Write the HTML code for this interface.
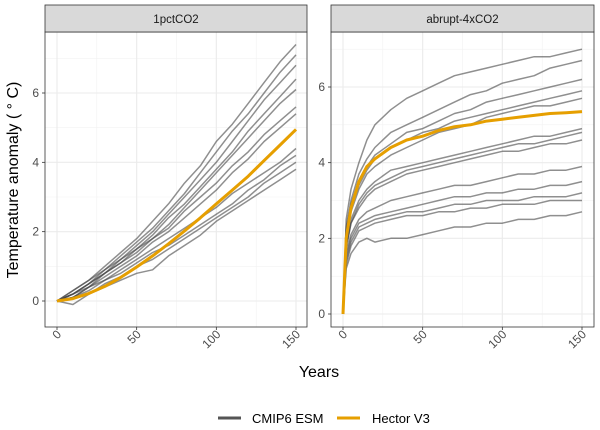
<!DOCTYPE html>
<html><head><meta charset="utf-8"><style>
body{margin:0;background:#fff;}
svg{font-family:"Liberation Sans",sans-serif;display:block}
</style></head><body>
<svg id="chart" width="600" height="430" viewBox="0 0 600 430">
<rect width="600" height="430" fill="#fff"/>
<g id="layer"></g>
<text x="319" y="377" font-size="16" text-anchor="middle" fill="#000">Years</text>
<text transform="translate(18,180) rotate(-90)" font-size="16" text-anchor="middle" fill="#000">Temperature anomaly ( ° C)</text>
<g>
<line x1="218" y1="418" x2="241" y2="418" stroke="#555" stroke-width="3"/>
<text x="252" y="423" font-size="13" fill="#000">CMIP6 ESM</text>
<line x1="337" y1="418" x2="360" y2="418" stroke="#E69F00" stroke-width="3"/>
<text x="372" y="423" font-size="13" fill="#000">Hector V3</text>
</g>
</svg>
<script>
const yearsA=[0,10,20,30,40,50,60,70,80,90,100,110,120,130,140,150];
const esmA=[
[0,0.3,0.6,1.0,1.4,1.8,2.3,2.8,3.4,3.9,4.6,5.1,5.7,6.3,6.9,7.4],
[0,0.2,0.5,0.9,1.3,1.7,2.1,2.6,3.1,3.7,4.3,4.9,5.4,6.0,6.6,7.1],
[0,0.3,0.6,0.9,1.2,1.6,2.0,2.5,3.0,3.5,4.0,4.6,5.2,5.8,6.3,6.8],
[0,0.2,0.5,0.8,1.2,1.5,1.9,2.4,2.8,3.3,3.8,4.3,4.9,5.4,5.9,6.4],
[0,0.1,0.4,0.8,1.1,1.5,1.8,2.2,2.7,3.2,3.7,4.2,4.7,5.2,5.7,6.1],
[0,0.2,0.5,0.8,1.1,1.4,1.8,2.1,2.6,3.0,3.4,3.9,4.3,4.8,5.2,5.6],
[0,0.1,0.4,0.7,1.0,1.3,1.7,2.0,2.4,2.8,3.2,3.7,4.1,4.6,5.0,5.4],
[0,0.2,0.4,0.6,0.9,1.2,1.5,1.8,2.1,2.4,2.7,3.1,3.4,3.7,4.0,4.4],
[0,0.1,0.3,0.6,0.8,1.1,1.4,1.6,1.9,2.2,2.5,2.8,3.2,3.5,3.9,4.2],
[0,0.1,0.2,0.5,0.7,1.0,1.2,1.5,1.8,2.1,2.4,2.7,3.0,3.4,3.7,4.0],
[0,-0.1,0.2,0.4,0.6,0.8,0.9,1.3,1.6,1.9,2.3,2.6,2.9,3.2,3.5,3.8]
];
const hectorA=[0,0.07,0.22,0.42,0.68,0.98,1.3,1.65,2.02,2.4,2.8,3.2,3.6,4.05,4.5,4.95];
const yearsB=[0,2,5,10,15,20,30,40,50,60,70,80,90,100,110,120,130,140,150];
const esmB=[
[0,2.5,3.3,4.0,4.6,5.0,5.4,5.7,5.9,6.1,6.3,6.4,6.5,6.6,6.7,6.8,6.8,6.9,7.0],
[0,2.3,3.0,3.7,4.1,4.4,4.8,5.0,5.2,5.4,5.6,5.8,5.9,6.1,6.2,6.3,6.5,6.6,6.7],
[0,2.2,2.9,3.5,3.9,4.2,4.5,4.8,4.9,5.1,5.3,5.4,5.6,5.7,5.8,5.9,6.0,6.1,6.2],
[0,2.1,2.8,3.4,3.8,4.1,4.4,4.6,4.8,4.9,5.1,5.2,5.3,5.4,5.5,5.6,5.7,5.8,5.9],
[0,2.0,2.7,3.3,3.7,3.9,4.2,4.4,4.6,4.8,4.9,5.0,5.2,5.3,5.4,5.5,5.5,5.6,5.7],
[0,1.8,2.5,3.0,3.3,3.5,3.8,3.9,4.0,4.1,4.2,4.3,4.4,4.5,4.6,4.7,4.7,4.8,4.9],
[0,1.7,2.4,2.9,3.2,3.4,3.6,3.8,3.9,4.0,4.1,4.2,4.3,4.4,4.5,4.5,4.6,4.7,4.8],
[0,1.8,2.4,2.8,3.1,3.3,3.5,3.7,3.8,3.9,4.0,4.1,4.2,4.3,4.3,4.4,4.5,4.5,4.6],
[0,1.6,2.1,2.5,2.7,2.8,3.0,3.1,3.2,3.3,3.4,3.4,3.5,3.6,3.7,3.7,3.8,3.8,3.9],
[0,1.5,2.0,2.4,2.5,2.6,2.7,2.8,2.9,3.0,3.1,3.1,3.2,3.2,3.3,3.3,3.4,3.4,3.5],
[0,1.4,1.9,2.3,2.4,2.5,2.6,2.7,2.7,2.8,2.9,2.9,3.0,3.0,3.0,3.1,3.1,3.1,3.2],
[0,1.3,1.8,2.2,2.3,2.4,2.5,2.6,2.6,2.7,2.7,2.8,2.8,2.9,2.9,2.9,3.0,3.0,3.0],
[0,1.2,1.6,1.9,2.0,1.9,2.0,2.0,2.1,2.2,2.3,2.3,2.4,2.4,2.5,2.5,2.6,2.6,2.7]
];
const hectorB=[0,2.0,2.8,3.5,3.9,4.1,4.4,4.6,4.7,4.85,4.95,5.0,5.1,5.15,5.2,5.25,5.3,5.32,5.35];
const xTicks=[0,50,100,150];
const yTicks=[0,2,4,6];
const titles=["1pctCO2","abrupt-4xCO2"];

const NS="http://www.w3.org/2000/svg";
const layer=document.getElementById('layer');
function mk(tag,attrs,parent){const e=document.createElementNS(NS,tag);for(const k in attrs)e.setAttribute(k,attrs[k]);(parent||layer).appendChild(e);return e;}

const panels=[
 {x0:45,x1:307,y0:32,y1:327,px0:57,px150:296,py0:301,py6:93,years:yearsA,esm:esmA,hec:hectorA,lblX:39},
 {x0:331,x1:594,y0:32,y1:327,px0:343,px150:582,py0:314,py6:87,years:yearsB,esm:esmB,hec:hectorB,lblX:325}
];
panels.forEach((p,i)=>{
 const sx=v=>p.px0+(p.px150-p.px0)*v/150;
 const sy=v=>p.py0+(p.py6-p.py0)*v/6;
 const g=mk('g',{});
 
 
 const bg=mk('rect',{x:p.x0,y:p.y0,width:p.x1-p.x0,height:p.y1-p.y0,fill:'#fff'},g);
 
 
 [1,3,5,7].forEach(v=>{if(sy(v)>p.y0){const l=mk('line',{x1:p.x0,x2:p.x1,y1:sy(v),y2:sy(v),stroke:'#f2f2f2','stroke-width':0.6},g);}});
 [25,75,125].forEach(v=>{const l=mk('line',{x1:sx(v),x2:sx(v),y1:p.y0,y2:p.y1,stroke:'#f2f2f2','stroke-width':0.6},g);});
 yTicks.forEach(v=>{
  const l=mk('line',{x1:p.x0,x2:p.x1,y1:sy(v),y2:sy(v),stroke:'#ebebeb','stroke-width':1.1},g);
  
  
  mk('line',{x1:p.x0-3,x2:p.x0,y1:sy(v),y2:sy(v),stroke:'#333','stroke-width':0.8},g);
  const t=mk('text',{x:p.lblX,y:sy(v)+4,'font-size':12,'text-anchor':'end',fill:'#4d4d4d'},g);
  t.textContent=v;
  
  
 });
 xTicks.forEach(v=>{
  const l=mk('line',{x1:sx(v),x2:sx(v),y1:p.y0,y2:p.y1,stroke:'#ebebeb','stroke-width':1.1},g);
  
  
  mk('line',{x1:sx(v),x2:sx(v),y1:p.y1,y2:p.y1+3,stroke:'#333','stroke-width':0.8},g);
  const t=mk('text',{transform:`translate(${sx(v)+5},${p.y1+8}) rotate(-45)`,'font-size':12,'text-anchor':'end',fill:'#4d4d4d'},g);
  t.textContent=v;
  
  
 });
 p.esm.forEach((s,j)=>{
  const d=s.map((v,k)=>(k?'L':'M')+sx(p.years[k]).toFixed(1)+','+sy(v).toFixed(1)).join('');
  const pl=mk('path',{d:d,fill:'none',stroke:'#444','stroke-opacity':0.6,'stroke-width':1.5,'stroke-linejoin':'round'},g);
  
  
 });
 const hd=p.hec.map((v,k)=>(k?'L':'M')+sx(p.years[k]).toFixed(1)+','+sy(v).toFixed(1)).join('');
 const hp=mk('path',{d:hd,fill:'none',stroke:'#E69F00','stroke-width':3,'stroke-linejoin':'round'},g);
 
 
 const br=mk('rect',{x:p.x0,y:p.y0,width:p.x1-p.x0,height:p.y1-p.y0,fill:'none',stroke:'#333','stroke-width':0.8},g);
 
 
 const st=mk('rect',{x:p.x0,y:5,width:p.x1-p.x0,height:p.y0-5,fill:'#d9d9d9',stroke:'#333','stroke-width':0.8},g);
 
 
 const tt=mk('text',{x:(p.x0+p.x1)/2,y:23,'font-size':11.5,'text-anchor':'middle',fill:'#1a1a1a'},g);
 tt.textContent=titles[i];
 
 
});
</script>
</body></html>
